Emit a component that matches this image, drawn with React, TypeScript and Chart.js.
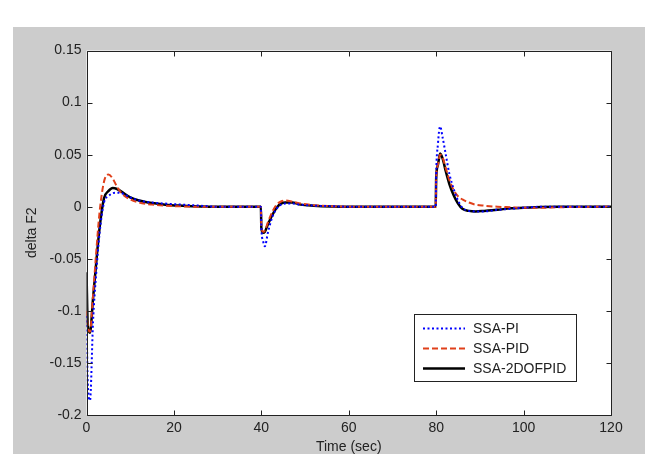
import React, { useEffect, useRef } from "react";
import { Chart, registerables } from "chart.js";

Chart.register(...registerables);

const time = [0, 0.3, 0.8, 1.5, 2.2, 3, 4, 5, 6, 7, 8, 10, 12, 15, 18, 22, 26, 30, 39.9, 40, 40.4, 40.8, 41.5, 42.5, 43.5, 44.5, 45.5, 47, 49, 52, 56, 60, 79.9, 80, 80.4, 80.9, 81.5, 82.2, 83, 84, 85, 86, 87.5, 89, 91, 94, 97, 100, 104, 108, 120];

const ssaPI = [-0.105, -0.17, -0.186, -0.11, -0.065, -0.025, 0.004, 0.01, 0.013, 0.0135, 0.013, 0.009, 0.006, 0.004, 0.003, 0.002, 0.001, 0, 0, -0.02, -0.033, -0.038, -0.025, -0.01, -0.002, 0.002, 0.003, 0.003, 0.002, 0.001, 0.0005, 0, 0, 0.03, 0.06, 0.077, 0.066, 0.05, 0.032, 0.017, 0.006, -0.001, -0.004, -0.0045, -0.0045, -0.003, -0.002, -0.001, 0, 0, 0];

const ssaPID = [-0.1, -0.115, -0.12, -0.085, -0.045, -0.005, 0.024, 0.031, 0.027, 0.019, 0.013, 0.007, 0.004, 0.002, 0.001, 0.0003, 0, 0, 0, -0.018, -0.024, -0.023, -0.015, -0.005, 0.002, 0.005, 0.006, 0.005, 0.003, 0.0015, 0.0005, 0, 0, 0.027, 0.04, 0.05, 0.047, 0.037, 0.026, 0.016, 0.01, 0.007, 0.004, 0.002, 0.001, 0, -0.0005, -0.001, -0.001, -0.0005, 0];

const ssa2DOFPID = [-0.063, -0.115, -0.121, -0.088, -0.055, -0.02, 0.008, 0.015, 0.018, 0.017, 0.0145, 0.009, 0.006, 0.0035, 0.002, 0.001, 0.0003, 0, 0, -0.02, -0.025, -0.024, -0.017, -0.008, -0.001, 0.003, 0.004, 0.004, 0.002, 0.001, 0.0003, 0, 0, 0.027, 0.04, 0.051, 0.046, 0.034, 0.022, 0.011, 0.003, -0.002, -0.004, -0.0045, -0.004, -0.003, -0.0015, -0.001, -0.0003, 0, 0];

const seriesNames = ["SSA-PI", "SSA-PID", "SSA-2DOFPID"];
const xTicks = [0, 20, 40, 60, 80, 100, 120];
const yTicks = [-0.2, -0.15, -0.1, -0.05, 0, 0.05, 0.1, 0.15];
const yTickLabels = ["-0.2", "-0.15", "-0.1", "-0.05", "0", "0.05", "0.1", "0.15"];

const FONT = '"Liberation Sans", Arial, sans-serif';
const TEXT = "#222";

const framePlugin = {
  id: "matlabFrame",
  beforeDraw(chart: any) {
    const { ctx, chartArea: a } = chart;
    ctx.save();
    ctx.fillStyle = "#ffffff";
    ctx.fillRect(0, 0, chart.width, chart.height);
    ctx.fillStyle = "#cccccc";
    ctx.fillRect(13, 27, chart.width - 13, chart.height - 27);
    ctx.fillStyle = "#ffffff";
    ctx.fillRect(a.left, a.top, a.right - a.left, a.bottom - a.top);
    ctx.restore();
  },
  afterDraw(chart: any) {
    const { ctx, chartArea: a, scales } = chart;
    ctx.save();
    ctx.strokeStyle = "#222";
    ctx.lineWidth = 1;
    const L = Math.round(a.left) + 0.5;
    const R = Math.round(a.right) + 0.5;
    const T = Math.round(a.top) + 0.5;
    const B = Math.round(a.bottom) + 0.5;
    ctx.beginPath();
    ctx.rect(L, T, R - L, B - T);
    const tl = 5;
    xTicks.forEach((v) => {
      const px = Math.round(scales.x.getPixelForValue(v)) + 0.5;
      ctx.moveTo(px, B);
      ctx.lineTo(px, B - tl);
      ctx.moveTo(px, T);
      ctx.lineTo(px, T + tl);
    });
    yTicks.forEach((v) => {
      const py = Math.round(scales.y.getPixelForValue(v)) + 0.5;
      ctx.moveTo(L, py);
      ctx.lineTo(L + tl, py);
      ctx.moveTo(R, py);
      ctx.lineTo(R - tl, py);
    });
    ctx.stroke();

    // legend
    const bx = 414.5, by = 314.5, bw = 162, bh = 67;
    ctx.fillStyle = "#ffffff";
    ctx.fillRect(bx, by, bw, bh);
    ctx.strokeStyle = "#222";
    ctx.strokeRect(bx, by, bw, bh);
    ctx.font = `14px ${FONT}`;
    ctx.textBaseline = "middle";
    ctx.textAlign = "left";
    chart.data.datasets.forEach((ds: any, i: number) => {
      const y = 328.5 + i * 20;
      ctx.beginPath();
      ctx.strokeStyle = ds.borderColor;
      ctx.lineWidth = ds.borderWidth;
      ctx.setLineDash(ds.borderDash || []);
      ctx.moveTo(423, y);
      ctx.lineTo(465, y);
      ctx.stroke();
      ctx.setLineDash([]);
      ctx.fillStyle = TEXT;
      ctx.fillText(ds.label, 473, y + 1);
    });
    ctx.restore();
  },
};

export default function App() {
  const ref = useRef<HTMLCanvasElement>(null);
  useEffect(() => {
    const mk = (vals: number[]) => time.map((t, i) => ({ x: t, y: vals[i] }));
    const chart = new Chart(ref.current as HTMLCanvasElement, {
      type: "line",
      data: {
        datasets: [
          {
            label: seriesNames[0],
            data: mk(ssaPI),
            borderColor: "#0000ff",
            borderWidth: 2,
            borderDash: [2, 2.5],
            pointRadius: 0,
            cubicInterpolationMode: "monotone",
          },
          {
            label: seriesNames[1],
            data: mk(ssaPID),
            borderColor: "#e0401a",
            borderWidth: 2,
            borderDash: [6, 3],
            pointRadius: 0,
            cubicInterpolationMode: "monotone",
          },
          {
            label: seriesNames[2],
            data: mk(ssa2DOFPID),
            borderColor: "#000000",
            borderWidth: 2.5,
            pointRadius: 0,
            cubicInterpolationMode: "monotone",
          },
        ],
      },
      options: {
        animation: false,
        responsive: false,
        devicePixelRatio: 1,
        layout: { padding: { left: 24.7, top: 50.5, right: 34, bottom: 0 } },
        plugins: { legend: { display: false }, tooltip: { enabled: false } },
        scales: {
          x: {
            type: "linear",
            min: 0,
            max: 120,
            afterBuildTicks: (s: any) => {
              s.ticks = xTicks.map((v) => ({ value: v }));
            },
            afterFit: (s: any) => {
              s.height = 39;
            },
            grid: { display: false, drawTicks: false },
            border: { display: false },
            ticks: {
              font: { family: FONT, size: 14 },
              color: TEXT,
              padding: 5,
              maxRotation: 0,
              autoSkip: false,
            },
            title: {
              display: true,
              text: "Time (sec)",
              font: { family: FONT, size: 14, lineHeight: 1 },
              color: TEXT,
              padding: { top: 0, bottom: 0 },
            },
          },
          y: {
            type: "linear",
            min: -0.2,
            max: 0.15,
            afterBuildTicks: (s: any) => {
              s.ticks = yTicks.map((v) => ({ value: v }));
            },
            afterFit: (s: any) => {
              s.width = 61.8;
            },
            grid: { display: false, drawTicks: false },
            border: { display: false },
            ticks: {
              font: { family: FONT, size: 14 },
              color: TEXT,
              padding: 5,
              autoSkip: false,
              callback: (v: any) => {
                const i = yTicks.findIndex((t) => Math.abs(t - v) < 1e-9);
                return i >= 0 ? yTickLabels[i] : "";
              },
            },
            title: {
              display: true,
              text: "delta F2",
              font: { family: FONT, size: 14, lineHeight: 1 },
              color: TEXT,
              padding: { top: 0, bottom: 0 },
            },
          },
        },
      },
      plugins: [framePlugin],
    } as any);
    return () => chart.destroy();
  }, []);
  return (
    <div style={{ position: "fixed", left: 0, top: 0, width: 645, height: 454 }}>
      <canvas ref={ref} width={645} height={454} />
    </div>
  );
}
